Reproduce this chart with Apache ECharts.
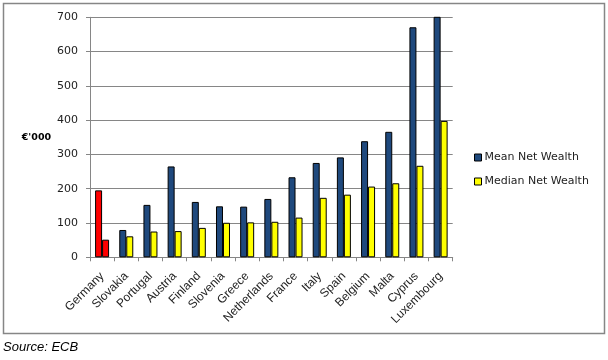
<!DOCTYPE html>
<html>
<head>
<meta charset="utf-8">
<script src="https://cdn.jsdelivr.net/npm/echarts@6/dist/echarts.min.js"></script>
<style>html,body{margin:0;padding:0;background:#fff}#c{width:608px;height:360px}</style>
</head>
<body>
<div id="c"></div>
<script>
var countries = ['Germany','Slovakia','Portugal','Austria','Finland','Slovenia','Greece','Netherlands','France','Italy','Spain','Belgium','Malta','Cyprus','Luxembourg'];
var meanWealth = [195.2, 79.7, 152.9, 265.0, 161.5, 148.7, 147.8, 170.2, 233.4, 275.2, 291.4, 338.6, 366.0, 670.9, 710.1];
var medianWealth = [51.4, 61.2, 75.2, 76.4, 85.8, 100.7, 101.9, 103.6, 115.8, 173.5, 182.7, 206.3, 215.9, 266.9, 397.8];
var yTicks = [0, 100, 200, 300, 400, 500, 600, 700];
var highlight = 'Germany';

var chart = echarts.init(document.getElementById('c'), null, {renderer: 'canvas'});
function mk(vals) {
  return vals.map(function (v, i) {
    return countries[i] === highlight ? {value: v, itemStyle: {color: '#FF0000'}} : v;
  });
}
chart.setOption({
  animation: false,
  grid: {left: 90, top: 17.3, right: 155.3, bottom: 102.7, containLabel: false},
  legend: {
    orient: 'vertical', left: 469, top: 147, itemWidth: 7, itemHeight: 7, itemGap: 13,
    icon: 'rect',
    itemStyle: {borderColor: '#000', borderWidth: 1},
    textStyle: {fontFamily: 'DejaVu Sans', fontSize: 11, color: '#222', padding: [0, 0, 0, -2]},
    data: ['Mean Net Wealth', 'Median Net Wealth']
  },
  xAxis: {
    type: 'category', data: countries,
    axisLine: {lineStyle: {color: '#868686', width: 1}},
    axisTick: {show: true, length: 4, alignWithLabel: false, lineStyle: {color: '#868686'}},
    axisLabel: {rotate: 45, fontFamily: 'Liberation Sans', fontSize: 12, color: '#222', margin: 17, interval: 0}
  },
  yAxis: {
    type: 'value', min: yTicks[0], max: yTicks[yTicks.length - 1], interval: 100,
    name: "€'000", nameLocation: 'middle', nameRotate: 0, nameGap: 38,
    nameTextStyle: {fontFamily: 'DejaVu Sans', fontSize: 9.5, fontWeight: 'bold', color: '#000', padding: [28, 0, 0, 0]},
    axisLine: {show: true, lineStyle: {color: '#868686'}},
    axisTick: {show: true, length: 4, lineStyle: {color: '#868686'}},
    axisLabel: {fontFamily: 'DejaVu Sans', fontSize: 11, color: '#222', margin: 12},
    splitLine: {lineStyle: {color: '#868686', width: 1}}
  },
  series: [
    {name: 'Mean Net Wealth', type: 'bar', barWidth: 7, barGap: '0%', clip: true,
     itemStyle: {color: '#1F497D', borderColor: '#000', borderWidth: 1},
     data: mk(meanWealth)},
    {name: 'Median Net Wealth', type: 'bar', barWidth: 7, barGap: '0%', clip: true,
     itemStyle: {color: '#FFFF00', borderColor: '#000', borderWidth: 1},
     data: mk(medianWealth)}
  ],
  graphic: [
    {type: 'rect', shape: {x: 3.5, y: 3.5, width: 601, height: 330}, style: {fill: 'none', stroke: '#868686', lineWidth: 1.5}, z: -1},
    {type: 'text', left: 3, top: 341, style: {text: 'Source: ECB', font: 'italic 13px "Liberation Sans"', fill: '#000'}}
  ]
});
</script>
</body>
</html>
